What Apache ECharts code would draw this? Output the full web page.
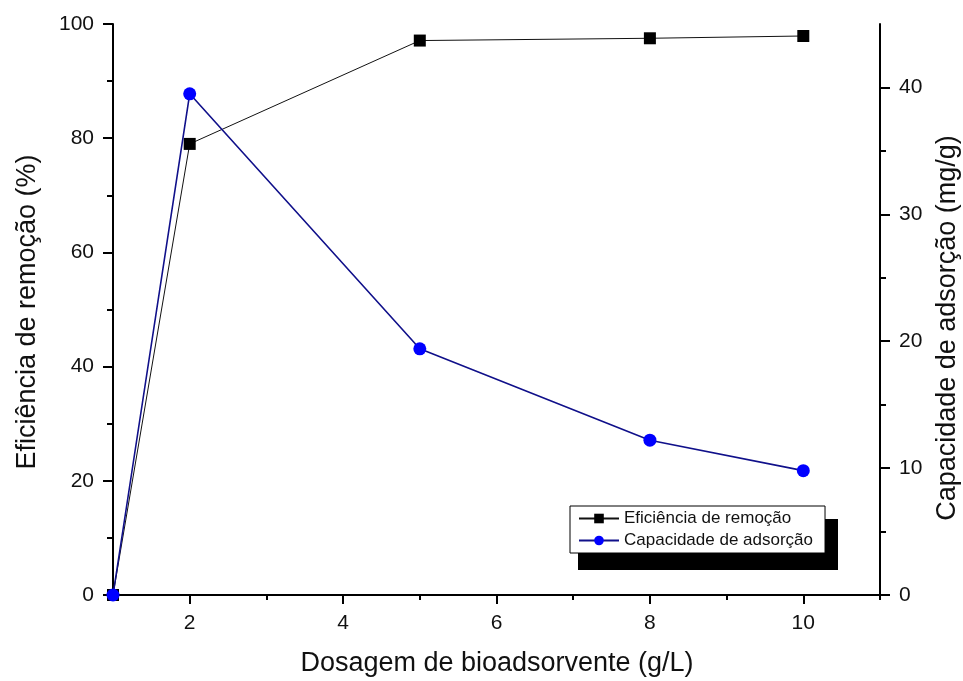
<!DOCTYPE html>
<html>
<head>
<meta charset="utf-8">
<script src="https://cdn.jsdelivr.net/npm/echarts@6/dist/echarts.min.js"></script>
<style>
  html, body { margin: 0; padding: 0; background: #fff; }
  #chart { width: 963px; height: 681px; }
</style>
</head>
<body>
<div id="chart"></div>
<script>
// Dosagem do bioadsorvente (g/L)
const dosagem = [1, 2, 5, 8, 10];
// Eficiência de remoção (%)
const eficiencia = [0, 79.0, 97.1, 97.5, 97.9];
// Capacidade de adsorção (mg/g)
const capacidade = [0, 39.5, 19.4, 12.2, 9.8];

const xMajor = [2, 4, 6, 8, 10];
const xMinor = [1, 3, 5, 7, 9, 11];
const yLeftMajor = [0, 20, 40, 60, 80, 100];
const yLeftMinor = [10, 30, 50, 70, 90];
const yRightMajor = [0, 10, 20, 30, 40];
const yRightMinor = [5, 15, 25, 35];

const xTitle = 'Dosagem de bioadsorvente (g/L)';
const yLeftTitle = 'Eficiência de remoção (%)';
const yRightTitle = 'Capacidade de adsorção (mg/g)';

const FONT = '"Liberation Sans", Arial, sans-serif';
const axisLine = { show: true, lineStyle: { color: '#000', width: 2 } };
const noLine = { show: false };
const tickStyle = { color: '#000', width: 2 };
const labelStyle = { color: '#111', fontSize: 21, fontFamily: FONT };
const titleStyle = { fill: '#111', fontSize: 27, fontFamily: FONT, align: 'center', verticalAlign: 'middle' };

function xAx(pos, values, len, inside, labels, withLine) {
  return {
    type: 'value', position: pos, min: 1, max: 11,
    axisLine: withLine ? axisLine : noLine,
    axisTick: { show: true, inside: inside, length: len, lineStyle: tickStyle, customValues: values },
    axisLabel: labels ? Object.assign({ margin: 18, customValues: xMajor }, labelStyle) : { show: false },
    splitLine: { show: false }
  };
}
function yAx(pos, max, values, len, labelVals, withLine) {
  return {
    type: 'value', position: pos, min: 0, max: max,
    axisLine: withLine ? axisLine : noLine,
    axisTick: { show: true, length: len, lineStyle: tickStyle, customValues: values },
    axisLabel: labelVals ? Object.assign({ margin: 19, customValues: labelVals }, labelStyle) : { show: false },
    splitLine: { show: false }
  };
}

const option = {
  animation: false,
  backgroundColor: '#fff',
  grid: { left: 113, right: 83, top: 24, bottom: 86, containLabel: false },
  xAxis: [
    xAx('bottom', xMajor, 9, false, true, true),
    xAx('bottom', xMinor, 5, false, false, false),
    xAx('top', xMajor, 8, true, false, true),
    xAx('top', xMinor, 5, true, false, false)
  ],
  yAxis: [
    yAx('left', 100, yLeftMajor, 10, yLeftMajor, true),
    yAx('right', 45, yRightMajor, 10, yRightMajor, true),
    yAx('left', 100, yLeftMinor, 6, null, false),
    yAx('right', 45, yRightMinor, 6, null, false)
  ],
  legend: {
    orient: 'vertical',
    left: 570, top: 506,
    padding: [4, 12, 4, 8],
    itemGap: 5,
    itemWidth: 40,
    itemHeight: 12,
    backgroundColor: '#fff',
    borderColor: '#000',
    borderWidth: 1,
    textStyle: { color: '#111', fontSize: 17, fontFamily: FONT },
    data: ['Eficiência de remoção', 'Capacidade de adsorção']
  },
  graphic: [
    {
      type: 'rect', z: 0,
      shape: { x: 578, y: 519, width: 260, height: 51 },
      style: { fill: '#000' }
    },
    { type: 'text', x: 497, y: 664, style: Object.assign({ text: xTitle }, titleStyle) },
    { type: 'text', x: 28, y: 312, rotation: Math.PI / 2, style: Object.assign({ text: yLeftTitle }, titleStyle) },
    { type: 'text', x: 948, y: 328, rotation: Math.PI / 2, style: Object.assign({ text: yRightTitle }, titleStyle) }
  ],
  series: [
    {
      name: 'Eficiência de remoção', type: 'line',
      xAxisIndex: 0, yAxisIndex: 0,
      data: dosagem.map((d, i) => [d, eficiencia[i]]),
      symbol: 'rect', symbolSize: 12,
      lineStyle: { color: '#111', width: 1 },
      itemStyle: { color: '#000' },
      z: 3
    },
    {
      name: 'Capacidade de adsorção', type: 'line',
      xAxisIndex: 0, yAxisIndex: 1,
      data: dosagem.map((d, i) => [d, capacidade[i]]),
      symbol: 'circle', symbolSize: 13,
      lineStyle: { color: '#10108a', width: 1.6 },
      itemStyle: { color: '#0000ff' },
      z: 4
    }
  ]
};

const chart = echarts.init(document.getElementById('chart'), null, { renderer: 'canvas' });
chart.setOption(option);
</script>
</body>
</html>
